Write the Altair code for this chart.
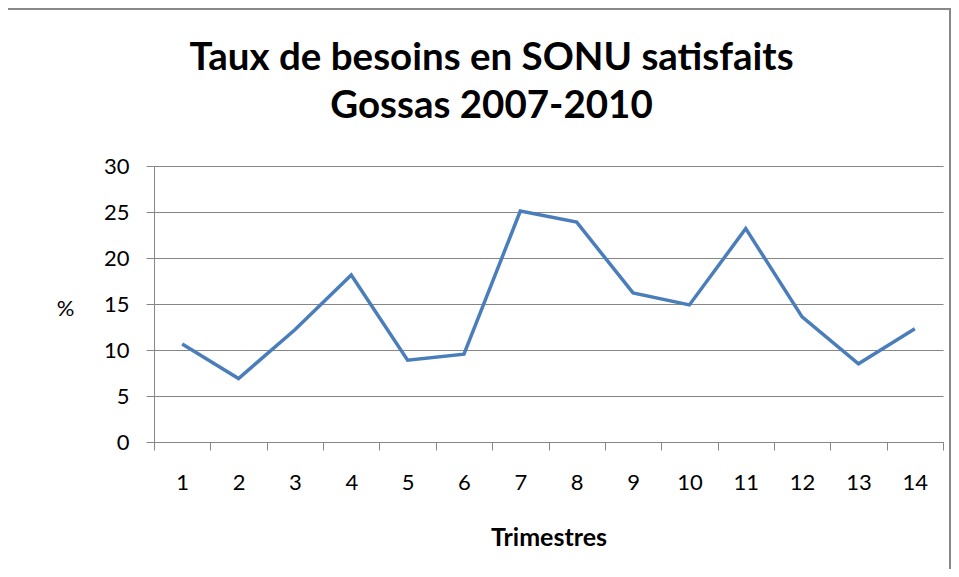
import altair as alt
import pandas as pd

quarters = list(range(1, 15))
values = [10.65, 6.9, 12.2, 18.15, 8.9, 9.55, 25.1, 23.9, 16.2, 14.9, 23.2, 13.6, 8.5, 12.3]
y_ticks = [0, 5, 10, 15, 20, 25, 30]
title_lines = ["Taux de besoins en SONU satisfaits", "Gossas 2007-2010"]
x_title = "Trimestres"
y_title = "%"

df = pd.DataFrame({"q": quarters, "v": values})

W, H = 789, 276
GRAY = "#868686"
FONT = "Lato"

edges = [q - 0.5 for q in quarters] + [quarters[-1] + 0.5]

line = alt.Chart(df).mark_line(color="#4a7ebb", strokeWidth=3.5, strokeJoin="miter").encode(
    x=alt.X("q:Q",
            scale=alt.Scale(domain=[0.5, 14.5], nice=False, zero=False),
            axis=alt.Axis(values=edges,
                          labelExpr="datum.value < 14 ? toString(datum.value + 0.5) : ''",
                          labelOffset=W / 14 / 2,
                          labelFlush=False, labelOverlap=False,
                          grid=False, tickSize=8, tickColor=GRAY, domainColor=GRAY,
                          labelFont=FONT, labelFontSize=22, labelColor="#000",
                          labelPadding=22,
                          title=x_title, titleFont=FONT, titleFontSize=25, titleFontWeight="bold",
                          titleColor="#000", titleY=95, titleBaseline="middle")),
    y=alt.Y("v:Q",
            scale=alt.Scale(domain=[0, 30], nice=False),
            axis=alt.Axis(values=y_ticks, grid=True, gridColor=GRAY, gridWidth=1,
                          tickSize=8, tickColor=GRAY, domainColor=GRAY,
                          labelFont=FONT, labelFontSize=22, labelColor="#000",
                          labelPadding=17,
                          title=y_title, titleAngle=0, titleFont=FONT, titleFontSize=22,
                          titleFontWeight="normal", titleColor="#000",
                          titleX=-89, titleY=142, titleAlign="center", titleBaseline="middle")),
)

frame = alt.Chart(alt.Data(values=[{}])).mark_rect(filled=False, stroke="#888888", strokeWidth=2).encode(
    x=alt.value(-148), x2=alt.value(796), y=alt.value(-157), y2=alt.value(430)
)

title_style = dict(font=FONT, fontSize=38.5, fontWeight="bold", color="#000",
                   align="center", baseline="alphabetic")
t1 = alt.Chart(alt.Data(values=[{}])).mark_text(**title_style).encode(
    x=alt.value(337.5), y=alt.value(-96), text=alt.value(title_lines[0]))
t2 = alt.Chart(alt.Data(values=[{}])).mark_text(**title_style).encode(
    x=alt.value(337.5), y=alt.value(-48), text=alt.value(title_lines[1]))

chart = alt.layer(frame, t1, t2, line).properties(
    width=W, height=H,
    autosize=alt.AutoSizeParams(type="none"),
    padding={"left": 146, "top": 158, "right": 8, "bottom": 127},
).configure_view(stroke=None)

chart.save("out.html", embed_options={"renderer": "svg", "actions": False})
